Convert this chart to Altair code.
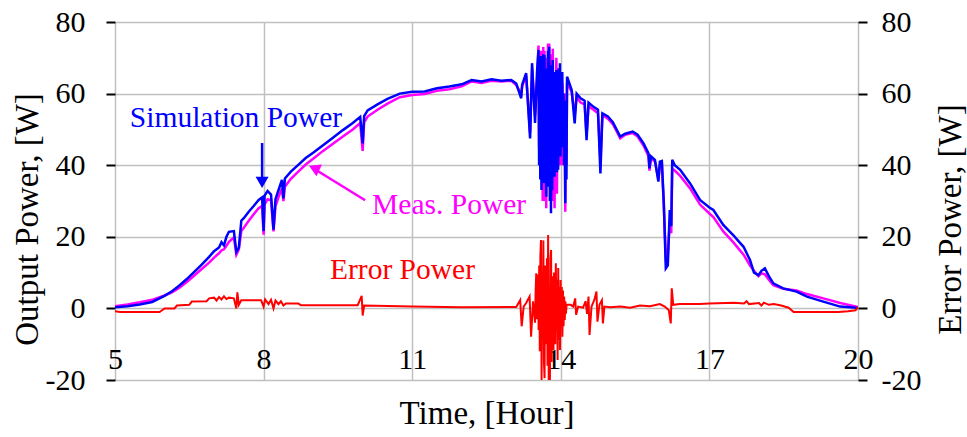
import altair as alt
import pandas as pd

# ---- power series (hour, simulated W, measured W), three consecutive stretches ----
t_morning = [5.00, 5.25, 5.50, 5.75, 6.00, 6.15, 6.30, 6.45, 6.60, 6.75, 6.90, 7.00, 7.10, 7.15,
             7.20, 7.25, 7.30, 7.40, 7.45, 7.50, 7.55, 7.60, 7.70, 7.80, 7.90, 7.97, 8.00, 8.02,
             8.08, 8.15, 8.20, 8.24, 8.30, 8.37, 8.40, 8.43, 8.55, 8.70, 8.85, 9.00, 9.20, 9.40,
             9.60, 9.80, 9.95, 10.00, 10.03, 10.10, 10.30, 10.50, 10.75, 11.00, 11.25, 11.50,
             11.75, 12.00, 12.20, 12.40, 12.60, 12.80, 13.00, 13.10, 13.20, 13.22, 13.30, 13.38,
             13.42, 13.48, 13.52]
sim_morning = [0.3, 0.6, 1.1, 1.8, 3.5, 4.8, 6.4, 8.2, 10.2, 12.2, 14.4, 16.0, 17.0, 18.5,
               17.6, 20.0, 21.4, 21.6, 15.8, 17.0, 24.5, 25.2, 27.0, 28.6, 30.3, 31.0, 21.6, 31.5,
               32.8, 31.8, 22.0, 30.5, 33.0, 35.9, 30.7, 36.3, 38.2, 40.1, 42.0, 43.5, 45.6, 47.7,
               49.8, 51.8, 53.5, 46.1, 53.7, 55.3, 57.0, 58.5, 60.0, 60.5, 60.6, 61.5,
               62.0, 62.6, 63.8, 63.4, 64.0, 63.6, 63.8, 62.8, 58.7, 62.5, 65.7, 47.5,
               68.5, 51.8, 66.0]
meas_morning = [0.6, 1.1, 1.7, 2.4, 3.6, 4.5, 5.8, 7.4, 9.2, 11.0, 12.8, 14.2, 15.4, 16.2,
                16.5, 17.5, 18.6, 19.8, 15.0, 16.5, 21.6, 22.5, 24.5, 26.3, 28.0, 28.6, 20.6, 29.0,
                30.5, 30.2, 21.5, 28.5, 31.0, 33.5, 30.0, 34.0, 36.2, 38.2, 40.2, 41.8, 44.0, 46.0,
                48.0, 50.0, 51.8, 44.0, 52.0, 53.6, 55.5, 57.2, 59.0, 59.6, 59.9, 60.8,
                61.2, 62.0, 63.4, 63.0, 63.6, 63.4, 63.6, 62.4, 59.8, 62.0, 65.0, 49.0,
                67.0, 54.0, 64.0]

t_cloud = [13.550, 13.562, 13.574, 13.586, 13.598, 13.610, 13.622, 13.634, 13.646, 13.658,
           13.670, 13.682, 13.694, 13.706, 13.718, 13.730, 13.742, 13.754, 13.766, 13.778,
           13.790, 13.802, 13.814, 13.826, 13.838, 13.850, 13.862, 13.874, 13.886, 13.898,
           13.910, 13.922, 13.934, 13.946, 13.958, 13.970, 13.982, 13.994, 14.006, 14.018,
           14.030, 14.042, 14.054, 14.066, 14.078, 14.090, 14.102, 14.114, 14.126]
sim_cloud = [72.2, 40.0, 68.0, 36.0, 70.5, 33.1, 66.0, 38.0, 71.0, 35.0,
             70.8, 40.0, 67.0, 31.2, 65.0, 34.0, 72.0, 45.0, 73.1, 30.0,
             68.0, 26.6, 64.0, 33.0, 69.4, 40.0, 62.0, 36.8, 66.0, 42.0,
             66.6, 38.0, 63.0, 38.7, 67.0, 44.0, 68.5, 42.4, 62.0, 45.0,
             66.0, 48.0, 60.0, 40.0, 58.0, 29.4, 55.0, 36.0, 64.7]
meas_cloud = [73.4, 45.0, 70.0, 42.0, 72.0, 40.0, 68.0, 30.0, 73.0, 45.0,
              72.0, 30.0, 70.0, 28.0, 60.0, 40.0, 74.0, 35.0, 74.0, 40.0,
              71.0, 30.0, 60.0, 45.0, 72.5, 30.0, 66.0, 28.0, 62.0, 48.0,
              70.0, 32.0, 67.0, 45.0, 64.0, 40.0, 66.0, 48.0, 60.0, 40.0,
              63.0, 52.0, 58.0, 45.0, 60.0, 27.0, 52.0, 40.0, 63.0]

t_evening = [14.22, 14.28, 14.32, 14.40, 14.48, 14.52, 14.56, 14.66, 14.75, 14.80, 14.84,
             14.95, 15.05, 15.20, 15.30, 15.45, 15.55, 15.67, 15.77, 15.79, 15.82, 15.90,
             15.97, 16.00, 16.04, 16.08, 16.12, 16.16, 16.20, 16.23, 16.25, 16.30, 16.41,
             16.61, 16.81, 17.00, 17.08, 17.28, 17.48, 17.60, 17.69, 17.82, 17.90, 17.99,
             18.05, 18.12, 18.20, 18.29, 18.49, 18.76, 18.97, 19.30, 19.64, 19.97, 20.00]
sim_evening = [61.0, 51.7, 60.0, 58.7, 58.0, 47.0, 57.5, 56.3, 55.5, 37.7, 54.5,
               53.6, 52.0, 48.0, 48.8, 49.4, 48.5, 46.1, 43.3, 39.1, 42.5, 41.5,
               35.4, 41.0, 41.2, 29.4, 11.2, 12.0, 27.5, 23.0, 41.5, 40.0, 38.7,
               34.9, 30.3, 28.2, 27.5, 23.3, 20.5, 18.6, 17.2, 13.5, 10.0, 9.3,
               10.5, 11.2, 9.0, 7.0, 5.6, 4.7, 3.3, 1.9, 0.5, 0.2, 0.0]
meas_evening = [60.5, 54.0, 59.0, 57.5, 57.0, 48.5, 56.5, 55.5, 54.5, 41.0, 54.0,
                53.0, 51.5, 47.5, 48.5, 49.0, 48.0, 45.5, 42.5, 38.5, 42.0, 41.0,
                36.0, 40.0, 40.5, 28.5, 14.0, 15.0, 24.0, 21.0, 39.0, 38.5, 37.0,
                33.5, 29.0, 26.5, 25.5, 21.5, 18.5, 16.5, 15.0, 12.0, 10.5, 9.0,
                9.8, 9.5, 8.0, 6.5, 5.5, 5.0, 4.0, 2.8, 1.5, 0.5, 0.3]

# ---- error series (hour, W), three consecutive stretches ----
t_err_a = [5.00, 5.10, 5.90, 5.95, 6.00, 6.20, 6.25, 6.50, 6.55, 6.85, 6.90, 7.00, 7.05, 7.10,
           7.15, 7.20, 7.25, 7.30, 7.40, 7.45, 7.47, 7.50, 7.55, 7.95, 8.00, 8.03, 8.10, 8.15,
           8.20, 8.24, 8.30, 8.35, 8.40, 8.45, 8.70, 8.75, 9.90, 9.98, 10.00, 10.03, 11.00,
           12.00, 13.10, 13.18, 13.21, 13.25, 13.30, 13.37, 13.40, 13.44]
err_a = [-0.8, -1.0, -1.0, -0.5, 0.0, 0.0, 0.8, 1.0, 1.9, 2.0, 2.8, 3.0, 2.2, 3.2,
         2.5, 3.4, 2.6, 3.0, 2.8, 0.0, 4.5, 1.0, 2.3, 2.3, 0.5, 2.5, 1.2, 2.4,
         0.0, 2.2, 1.2, 2.0, 0.8, 1.4, 1.4, 0.9, 0.9, 3.5, -2.0, 0.8, 0.5,
         0.3, 0.4, 2.3, -5.0, 0.5, 1.5, 3.3, -7.9, 2.0]
t_err_b = [13.480, 13.492, 13.504, 13.516, 13.528, 13.540, 13.552, 13.564, 13.576, 13.588,
           13.600, 13.612, 13.624, 13.636, 13.648, 13.660, 13.672, 13.684, 13.696, 13.708,
           13.720, 13.732, 13.744, 13.756, 13.768, 13.780, 13.792, 13.804, 13.816, 13.828,
           13.840, 13.852, 13.864, 13.876, 13.888, 13.900, 13.912, 13.924, 13.936, 13.948,
           13.960, 13.972, 13.984, 13.996, 14.008, 14.020, 14.032, 14.044, 14.056, 14.068,
           14.080, 14.092, 14.104, 14.116]
err_b = [-4.0, 5.0, 9.8, -3.0, 8.0, 9.5, -6.0, 12.0, -12.0, 15.0,
         19.1, -20.0, 10.0, -8.0, 19.0, -15.0, -19.5, 12.0, 8.0, -10.0,
         14.0, -16.0, 20.5, -20.0, 6.0, -20.0, 14.0, 16.3, -15.0, 9.0,
         -8.0, -11.6, 10.0, 6.0, -10.0, 12.6, -6.0, 8.0, -14.4, 11.3,
         -9.0, 6.0, -11.6, 7.9, -5.0, 6.0, -7.9, 5.0, -5.0, 3.3,
         -3.2, 2.0, -1.5, 1.0]
t_err_c = [14.20, 14.25, 14.29, 14.31, 14.35, 14.45, 14.50, 14.53, 14.56, 14.58, 14.62, 14.68,
           14.72, 14.74, 14.78, 14.83, 14.85, 14.88, 15.00, 15.20, 15.40, 15.60, 15.80, 16.00,
           16.10, 16.18, 16.22, 16.24, 16.27, 16.40, 16.80, 17.00, 17.50, 17.70, 17.75, 17.80,
           18.00, 18.05, 18.10, 18.20, 18.30, 18.45, 18.60, 18.70, 19.60, 19.80, 19.95, 20.00]
err_c = [1.0, 0.5, 2.8, -1.8, 0.5, 0.2, 2.0, -1.5, 3.3, -7.4, 0.5, 2.5,
         4.7, -3.7, 1.0, 2.3, -4.2, 0.5, 0.3, 0.5, 0.2, 0.8, 0.6, 1.2,
         0.5, -0.5, -4.2, 5.6, 1.0, 1.2, 1.2, 1.4, 1.6, 1.4, 2.0, 1.2,
         1.5, 0.8, 1.6, 1.0, 1.2, 0.8, 0.2, -1.0, -1.0, -0.8, -0.5, 0.3]

x_ticks = [5, 8, 11, 14, 17, 20]
y_ticks = [-20, 0, 20, 40, 60, 80]

FONT = "Liberation Serif"
pow_df = pd.DataFrame({
    "t": t_morning + t_cloud + t_evening,
    "sim": sim_morning + sim_cloud + sim_evening,
    "meas": meas_morning + meas_cloud + meas_evening,
})
err_df = pd.DataFrame({"t": t_err_a + t_err_b + t_err_c, "err": err_a + err_b + err_c})
one = pd.DataFrame({"a": [0]})

xscale = alt.Scale(domain=[5, 20], nice=False, zero=False)
yscale = alt.Scale(domain=[-20, 80], nice=False, zero=False)
plain_label = "'' + datum.value"

x_enc = alt.X("t:Q", scale=xscale, axis=alt.Axis(
    values=x_ticks, title="Time, [Hour]", grid=True, gridColor="#c0c0c0", gridWidth=1.5,
    domain=False, ticks=False, tickSize=0, labelPadding=-12, labelBaseline="alphabetic",
    labelFlush=False, labelFont=FONT, labelFontSize=30, labelColor="black",
    titleFont=FONT, titleFontSize=33, titleFontWeight="normal", titleColor="black",
    titleY=43, titleBaseline="alphabetic"))

left_axis = alt.Axis(
    values=y_ticks, title="Output Power, [W]", grid=True, gridColor="#c0c0c0", gridWidth=1.5,
    domain=False, ticks=True, tickSize=9, tickColor="black", tickWidth=2, labelPadding=21,
    labelFlush=False, labelFont=FONT, labelFontSize=30, labelColor="black", labelExpr=plain_label,
    titleFont=FONT, titleFontSize=33, titleFontWeight="normal", titleColor="black",
    titleAngle=270, titleX=-78, titleY=197, titleAlign="center", titleBaseline="alphabetic")

right_axis = alt.Axis(
    orient="right", values=y_ticks, title="Error Power, [W]", grid=False,
    domain=False, ticks=True, tickSize=9, tickColor="black", tickWidth=2, labelPadding=14,
    labelFlush=False, labelFont=FONT, labelFontSize=30, labelColor="black", labelExpr=plain_label,
    titleFont=FONT, titleFontSize=33, titleFontWeight="normal", titleColor="black",
    titleAngle=270, titleX=102, titleY=197, titleAlign="center", titleBaseline="alphabetic")

meas_line = alt.Chart(pow_df).mark_line(color="#ff00ff", strokeWidth=2.5, clip=True).encode(
    x=x_enc, y=alt.Y("meas:Q", scale=yscale, axis=left_axis))
sim_line = alt.Chart(pow_df).mark_line(color="#0000ff", strokeWidth=2.5, clip=True).encode(
    x=alt.X("t:Q", scale=xscale), y=alt.Y("sim:Q", scale=yscale))

def label(txt, x, y, color):
    return alt.Chart(one).mark_text(align="left", baseline="middle", font=FONT, fontSize=29.5,
                                    color=color).encode(
        x=alt.datum(x), y=alt.datum(y), text=alt.value(txt))

sim_lbl = label("Simulation Power", 5.30, 53.2, "#0000ff")
meas_lbl = label("Meas. Power", 10.19, 28.9, "#ff00ff")
err_lbl = label("Error Power", 9.34, 10.7, "#ff0000")

blue_shaft = alt.Chart(one).mark_rule(color="#0000ff", strokeWidth=2.5).encode(
    x=alt.datum(7.97), y=alt.datum(46.2), y2=alt.datum(36.0))
blue_head = alt.Chart(one).mark_point(shape="triangle-down", filled=True, color="#0000ff",
                                      size=170, opacity=1).encode(
    x=alt.datum(7.97), y=alt.datum(35.2))
mag_shaft = alt.Chart(one).mark_rule(color="#ff00ff", strokeWidth=2.5).encode(
    x=alt.datum(10.05), x2=alt.datum(9.1), y=alt.datum(30.2), y2=alt.datum(38.3))
mag_head = alt.Chart(one).mark_point(shape="triangle-up", filled=True, color="#ff00ff",
                                     size=170, opacity=1, angle=295).encode(
    x=alt.datum(9.02), y=alt.datum(39.2))

left = alt.layer(meas_line, sim_line, sim_lbl, meas_lbl, err_lbl,
                 blue_shaft, blue_head, mag_shaft, mag_head)

err_line = alt.Chart(err_df).mark_line(color="#ff0000", strokeWidth=2, clip=True).encode(
    x=alt.X("t:Q", scale=xscale), y=alt.Y("err:Q", scale=yscale, axis=right_axis))

chart = alt.layer(left, err_line).resolve_scale(y="independent").properties(
    width=743, height=358,
    autosize=alt.AutoSizeParams(type="none"),
    padding={"left": 115, "top": 22, "right": 109, "bottom": 57},
).configure_view(stroke="black", strokeWidth=2).configure(background="white")

chart.save("out.html", embed_options={"renderer": "svg", "actions": False})
